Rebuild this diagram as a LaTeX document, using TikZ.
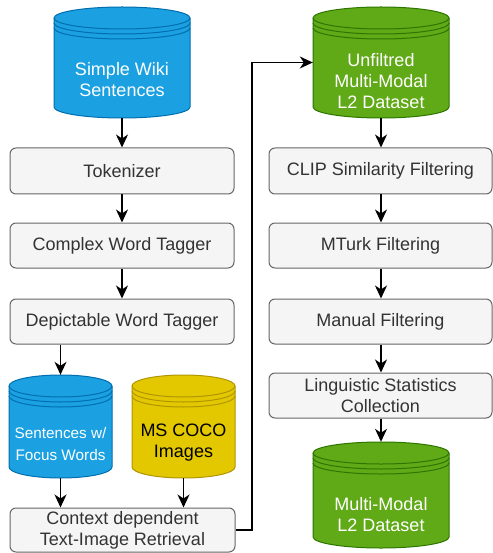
\documentclass[tikz,border=0pt]{standalone}
\usepackage{fontspec}
\setmainfont{Liberation Sans}
\usetikzlibrary{arrows.meta,calc}
\definecolor{boxfill}{HTML}{F5F5F5}
\definecolor{boxline}{HTML}{666666}
\definecolor{boxtext}{HTML}{333333}
\definecolor{bluefill}{HTML}{1BA1E2}
\definecolor{blueline}{HTML}{006EAF}
\definecolor{greenfill}{HTML}{60A917}
\definecolor{greenline}{HTML}{2D7600}
\definecolor{yellowfill}{HTML}{E3C800}
\definecolor{yellowline}{HTML}{B09500}
\tikzset{
  procbox/.style={draw=boxline, fill=boxfill, rounded corners=6pt, line width=1pt,
    text=boxtext, font=\fontsize{18}{21}\selectfont, align=center, inner sep=0pt},
  dstext/.style={font=\fontsize{18}{21}\selectfont, align=center, inner sep=0pt},
  smalltext/.style={font=\fontsize{15.3}{21.5}\selectfont, align=center, inner sep=0pt},
  flow/.style={line width=1.5pt, -{Stealth[length=13pt,width=12pt,inset=4pt]}},
}
% name, x1, top, x2, bottom, fill, line
\newcommand\dstore[7]{%
  \pgfmathsetmacro\dsrx{(#4-#2)/2}%
  \pgfmathsetmacro\dscx{(#4+#2)/2}%
  \pgfmathsetmacro\dscy{(#5+#3)/2}%
  \pgfmathsetmacro\dswd{#4-#2}%
  \pgfmathsetmacro\dsht{#5-#3}%
  \filldraw[fill=#6, draw=#7, line width=1pt] (#2,#3+11) -- (#2,#5-11)
    arc[start angle=180,end angle=360,x radius=\dsrx pt,y radius=11pt]
    -- (#4,#3+11)
    arc[start angle=0,end angle=180,x radius=\dsrx pt,y radius=11pt] -- cycle;
  \draw[#7, line width=1pt] (#2,#3+11) arc[start angle=180,end angle=360,x radius=\dsrx pt,y radius=11pt];
  \draw[#7, line width=1pt] (#2,#3+16) arc[start angle=180,end angle=360,x radius=\dsrx pt,y radius=11pt];
  \draw[#7, line width=1pt] (#2,#3+21) arc[start angle=180,end angle=360,x radius=\dsrx pt,y radius=11pt];
  \node[minimum width=\dswd pt, minimum height=\dsht pt, inner sep=0pt] (#1) at (\dscx,\dscy) {};
}
\begin{document}
\begin{tikzpicture}[x=1pt,y=-1pt]
\useasboundingbox (0,0) rectangle (492,553);

% data stores
\dstore{sw}{54}{7}{190}{118}{bluefill}{blueline}
\node[dstext, text=white] (swt) at (122,80) {Simple Wiki\\Sentences};

\dstore{unf}{313}{7}{449}{118}{greenfill}{greenline}
\node[dstext, text=white] (unft) at (381,81) {Unfiltred\\Multi-Modal\\L2 Dataset};

\dstore{sent}{9}{375}{112}{478}{bluefill}{blueline}
\node[smalltext, text=white] (sentt) at (60.5,444) {Sentences w/\\Focus Words};

\dstore{coco}{132}{375}{235}{478}{yellowfill}{yellowline}
\node[dstext, text=black] (cocot) at (183.5,443) {MS COCO\\Images};

\dstore{mm}{313}{442}{449}{548}{greenfill}{greenline}
\node[dstext, text=white] (mmt) at (381,515) {Multi-Modal\\L2 Dataset};

% process boxes
\node[procbox, minimum width=224pt, minimum height=46pt] (tok) at (122,171) {Tokenizer};
\node[procbox, minimum width=224pt, minimum height=45pt] (cwt) at (122,245.5) {Complex Word Tagger};
\node[procbox, minimum width=224pt, minimum height=45pt] (dwt) at (122,321.5) {Depictable Word Tagger};
\node[procbox, minimum width=225pt, minimum height=44pt] (ctx) at (122.5,530) {Context dependent\\Text-Image Retrieval};

\node[procbox, minimum width=223pt, minimum height=46pt] (clip) at (380.5,171) {CLIP Similarity Filtering};
\node[procbox, minimum width=223pt, minimum height=45pt] (mturk) at (380.5,245.5) {MTurk Filtering};
\node[procbox, minimum width=223pt, minimum height=45pt] (man) at (380.5,321.5) {Manual Filtering};
\node[procbox, minimum width=223pt, minimum height=45pt] (ling) at (380.5,395.5) {Linguistic Statistics\\Collection};

% connectors
\draw[flow] (sw.south) -- (sw.south |- tok.north);
\draw[flow] (tok.south) -- (cwt.north);
\draw[flow] (cwt.south) -- (dwt.north);
\draw[flow] (sent.north |- dwt.south) -- (sent.north);
\draw[flow] (sent.south) -- (sent.south |- ctx.north);
\draw[flow] (coco.south) -- (coco.south |- ctx.north);
\coordinate (bend) at (252,0);
\draw[flow] (ctx.east) -- (ctx.east -| bend) |- (unf.west);
\draw[flow] (unf.south) -- (unf.south |- clip.north);
\draw[flow] (unf.south |- clip.south) -- (unf.south |- mturk.north);
\draw[flow] (unf.south |- mturk.south) -- (unf.south |- man.north);
\draw[flow] (unf.south |- man.south) -- (unf.south |- ling.north);
\draw[flow] (unf.south |- ling.south) -- (mm.north);
\end{tikzpicture}
\end{document}
